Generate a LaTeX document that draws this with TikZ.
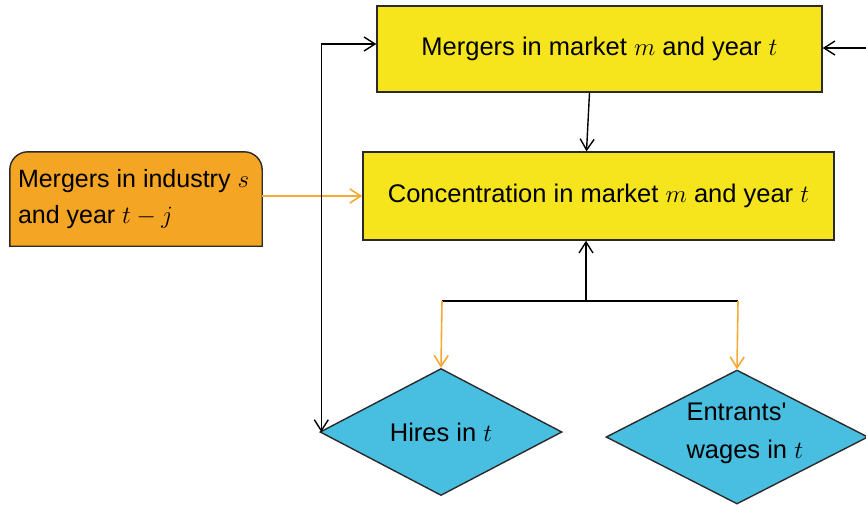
\documentclass[tikz,border=0pt]{standalone}
\usepackage{fontspec}
\setmainfont{Liberation Sans}
\usetikzlibrary{arrows.meta,shapes.geometric,calc,backgrounds}
\definecolor{boxyellow}{HTML}{F6E51C}
\definecolor{boxorange}{HTML}{F4A524}
\definecolor{boxblue}{HTML}{48BFE1}
\definecolor{linkorange}{HTML}{F6A934}
\definecolor{edge}{HTML}{2A2A2A}
\tikzset{
  every node/.style={font=\fontsize{25.5}{36}\selectfont, text=black},
  ybox/.style={draw=edge, line width=1.4pt, fill=boxyellow, inner sep=0pt},
  dbox/.style={diamond, draw=edge, line width=1.4pt, fill=boxblue, inner sep=0pt, aspect=2},
  link/.style={draw=black, line width=1.4pt, -{Straight Barb[length=11pt,width=14pt]}},
  olink/.style={draw=linkorange, line width=1.6pt, -{Straight Barb[length=11pt,width=14pt]}},
}
\begin{document}
\begin{tikzpicture}[x=1pt,y=-1pt]
  \useasboundingbox (0,0) rectangle (866,504);
  \clip (0,0) rectangle (866,504);

  % boxes
  \node[ybox, minimum width=445pt, minimum height=86pt] (top) at (599.5,49)
    {Mergers in market $m$ and year $t$};
  \node[ybox, minimum width=471pt, minimum height=88pt] (conc) at (598.5,196)
    {Concentration in market $m$ and year $t$};
  % industry box: frame node with rounded top corners, text set inside it
  \node[inner sep=0pt, minimum width=252pt, minimum height=94pt] (ind) at (136,199) {};
  \begin{scope}[on background layer]
    \draw[draw=edge, line width=1.4pt, fill=boxorange]
      (ind.south west) -- ($(ind.north west)+(0,18)$)
      arc[start angle=180, end angle=90, radius=18pt]
      -- ($(ind.north east)+(-18,0)$)
      arc[start angle=90, end angle=0, radius=18pt]
      -- (ind.south east) -- cycle;
  \end{scope}
  \node[inner sep=0pt, align=left, anchor=west, font=\fontsize{25}{36}\selectfont]
    (indtext) at ([xshift=8pt]ind.west)
    {Mergers in industry $s$\\and year $t-j$};

  % diamonds
  \node[dbox, minimum width=242pt, minimum height=127pt] (hires) at (441,432)
    {Hires in $t$};
  \node[dbox, minimum width=262pt, minimum height=134pt] (ent) at (737,437) {};
  \node[align=left, anchor=west, font=\fontsize{25.5}{38}\selectfont] (entlabel) at (683,433)
    {Entrants\textquotesingle\\wages in $t$};

  % connectors
  \coordinate (ext) at (870,48);
  \coordinate (split) at (586,301);
  \coordinate (splitL) at (442,301);
  \coordinate (splitR) at (738,301);

  \draw[link] (ext) -- (ext -| top.east);
  \draw[link] ([xshift=-10pt]top.south) -- ([xshift=-12pt]conc.north);
  \draw[olink] (ind.east |- conc.west) -- (conc.west);
  \draw[link] (split) -- (split |- conc.south);
  \draw[draw=black, line width=1.4pt] (splitL) -- (splitR);
  \draw[olink] (splitL) -- (hires.north);
  \draw[olink] (splitR) -- (ent.north);
  \draw[link, {Straight Barb[length=11pt,width=14pt]}-{Straight Barb[length=11pt,width=14pt]}]
    ([yshift=5pt]top.west) -| ([xshift=2pt]hires.west);
\end{tikzpicture}
\end{document}
